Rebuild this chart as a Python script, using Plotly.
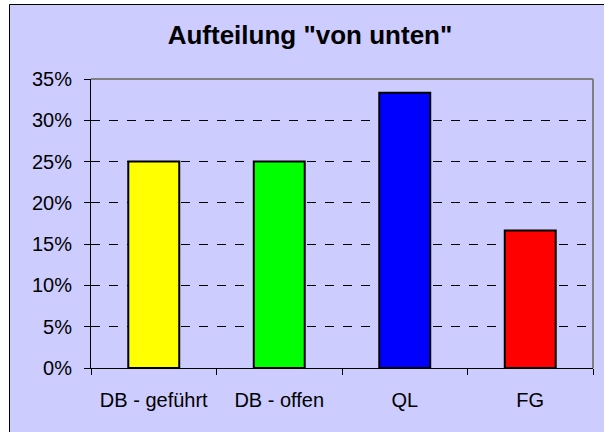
import plotly.graph_objects as go

categories = ["DB - geführt", "DB - offen", "QL", "FG"]
values = [0.25, 0.25, 1/3, 1/6]
bar_colors = ["#FFFF00", "#00FF00", "#0000FF", "#FF0000"]
y_tickvals = [0, 0.05, 0.10, 0.15, 0.20, 0.25, 0.30, 0.35]
y_ticktext = ["0%", "5%", "10%", "15%", "20%", "25%", "30%", "35%"]
title_text = 'Aufteilung "von unten"'

W, H = 604, 432
L, R, T, B = 91, 593, 79, 368  # plot area pixels
pw, ph = R - L, B - T

def px_x(p):
    return (p - L) / pw

def px_y(p):
    return (B - p) / ph

FONT = "Arial, Liberation Sans, sans-serif"

fig = go.Figure()
fig.add_trace(go.Bar(
    x=categories, y=values,
    marker=dict(color=bar_colors, line=dict(color="#000000", width=2)),
    showlegend=False,
))

fig.update_layout(
    width=W, height=H,
    margin=dict(l=L, r=W - R, t=T, b=H - B, pad=0),
    paper_bgcolor="#FFFFFF",
    plot_bgcolor="#FFFFFF",
    bargap=0.594,
    title=dict(text=title_text, x=310 / W, xanchor="center",
               y=1 - 35 / H, yanchor="middle", yref="container",
               font=dict(family=FONT, size=26, color="#000000", weight="bold")),
    font=dict(family=FONT, size=20, color="#000000"),
    xaxis=dict(showline=True, linecolor="#000000", linewidth=1,
               ticks="outside", ticklen=6, tickcolor="#000000", tickwidth=1,
               tickson="boundaries", showgrid=False,
               ticklabelstandoff=14,
               tickfont=dict(family=FONT, size=20, color="#000000")),
    yaxis=dict(range=[0, 0.35], tickvals=y_tickvals, ticktext=y_ticktext,
               showline=True, linecolor="#000000", linewidth=1,
               ticks="outside", ticklen=6, tickcolor="#000000", tickwidth=1,
               showgrid=True, gridcolor="#000000", gridwidth=1, griddash="dash",
               zeroline=False, ticklabelstandoff=8,
               tickfont=dict(family=FONT, size=20, color="#000000")),
    shapes=[
        # chart background (cropped at right/bottom)
        dict(type="rect", xref="paper", yref="paper",
             x0=px_x(9.5), x1=px_x(W + 2), y0=px_y(H + 2), y1=px_y(4.5),
             fillcolor="#CCCCFF", line=dict(width=0), layer="below"),
        # chart border: top and left only visible
        dict(type="line", xref="paper", yref="paper",
             x0=px_x(9.5), x1=px_x(W + 2), y0=px_y(4.5), y1=px_y(4.5),
             line=dict(color="#000000", width=1), layer="below"),
        dict(type="line", xref="paper", yref="paper",
             x0=px_x(9.5), x1=px_x(9.5), y0=px_y(H + 2), y1=px_y(4.5),
             line=dict(color="#000000", width=1), layer="below"),
        # plot frame top and right (gray)
        dict(type="line", xref="paper", yref="paper", x0=0, x1=1, y0=1, y1=1,
             line=dict(color="#808080", width=2), layer="above"),
        dict(type="line", xref="paper", yref="paper", x0=1, x1=1, y0=0, y1=1,
             line=dict(color="#808080", width=2), layer="above"),
    ],
)

fig.write_html(
    "out.html",
    config={"displayModeBar": False},
    post_script="document.body.style.margin='0';document.documentElement.style.overflow='hidden';document.body.style.overflow='hidden';",
)
